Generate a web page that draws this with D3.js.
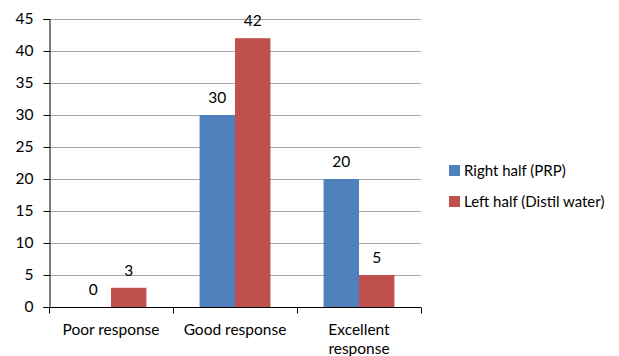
<!DOCTYPE html>
<html>
<head>
<meta charset="utf-8">
<script src="https://cdn.jsdelivr.net/npm/d3@7"></script>
<style>
  body { margin: 0; background: #fff; }
  text { font-family: Lato, "Open Sans", sans-serif; fill: #000; }
</style>
</head>
<body>
<svg width="619" height="356"></svg>
<script>
const categories = ["Poor response", "Good response", "Excellent response"];
const seriesNames = ["Right half (PRP)", "Left half (Distil water)"];
const prpValues = [0, 30, 20];
const waterValues = [3, 42, 5];
const yTicks = [0, 5, 10, 15, 20, 25, 30, 35, 40, 45];
const colors = ["#4f81bd", "#c0504d"];

const svg = d3.select("svg"),
    margin = {top: 19, right: 198, bottom: 49, left: 49},
    width = +svg.attr("width") - margin.left - margin.right,
    height = +svg.attr("height") - margin.top - margin.bottom,
    g = svg.append("g").attr("transform", "translate(" + margin.left + "," + margin.top + ")");

const x0 = d3.scaleBand().domain(categories).range([0, width]);
const x1 = d3.scaleBand().domain(seriesNames).range([0, x0.bandwidth()]).paddingOuter(0.75);
const y = d3.scaleLinear().domain([0, 45]).range([height, 0]);

// gridlines
g.append("g")
  .selectAll("line")
  .data(yTicks.slice(1))
  .enter().append("line")
    .attr("x1", 0).attr("x2", width)
    .attr("y1", d => y(d) + 0.5).attr("y2", d => y(d) + 0.5)
    .attr("stroke", "#a6a6a6").attr("stroke-width", 1);

const data = categories.map((c, i) => ({cat: c, vals: [prpValues[i], waterValues[i]]}));

const groups = g.append("g").selectAll("g")
  .data(data)
  .enter().append("g")
    .attr("transform", d => "translate(" + x0(d.cat) + ",0)");

groups.selectAll("rect")
  .data(d => d.vals.map((v, i) => ({key: seriesNames[i], value: v, i: i})))
  .enter().append("rect")
    .attr("x", d => x1(d.key))
    .attr("y", d => y(d.value))
    .attr("width", x1.bandwidth())
    .attr("height", d => height - y(d.value))
    .attr("fill", d => colors[d.i]);

groups.selectAll("text.val")
  .data(d => d.vals.map((v, i) => ({key: seriesNames[i], value: v})))
  .enter().append("text")
    .attr("class", "val")
    .attr("x", d => x1(d.key) + x1.bandwidth() / 2)
    .attr("y", d => y(d.value) - 12)
    .attr("text-anchor", "middle")
    .style("font-size", "15.5px")
    .text(d => d.value);

// y axis
const yAxis = g.append("g")
  .attr("transform", "translate(0.5,0)")
  .call(d3.axisLeft(y).tickValues(yTicks).tickSize(6).tickPadding(10));
yAxis.select(".domain").attr("stroke", "#000");
yAxis.selectAll("text").style("font-size", "15.5px");

// x axis
const xAxis = g.append("g")
  .attr("transform", "translate(0," + (height + 0.5) + ")")
  .call(d3.axisBottom(x0).tickSize(0).tickPadding(0));
xAxis.select(".domain").remove();
xAxis.selectAll("text").remove();
xAxis.append("line").attr("x1", 0).attr("x2", width).attr("stroke", "#000");
xAxis.selectAll(".sep")
  .data(d3.range(categories.length + 1))
  .enter().append("line")
    .attr("class", "sep")
    .attr("x1", i => i * x0.step() + 0.5).attr("x2", i => i * x0.step() + 0.5)
    .attr("y1", 0).attr("y2", 6)
    .attr("stroke", "#000");

// category labels (wrap long ones)
const catLabels = g.append("g").selectAll("text")
  .data(categories)
  .enter().append("text")
    .attr("x", d => x0(d) + x0.bandwidth() / 2)
    .attr("y", height + 28)
    .attr("text-anchor", "middle")
    .style("font-size", "15.5px");
catLabels.each(function(d) {
  const el = d3.select(this);
  const lines = d.length > 14 ? d.split(" ") : [d];
  lines.forEach((w, i) => {
    el.append("tspan")
      .attr("x", x0(d) + x0.bandwidth() / 2)
      .attr("dy", i === 0 ? 0 : 19)
      .text(w);
  });
});

// legend
const legend = svg.append("g").attr("transform", "translate(449,165)");
seriesNames.forEach((name, i) => {
  legend.append("rect")
    .attr("x", 0).attr("y", i * 31)
    .attr("width", 11).attr("height", 11)
    .attr("fill", colors[i]);
  legend.append("text")
    .attr("x", 15).attr("y", i * 31 + 11)
    .style("font-size", "15px")
    .text(name);
});
</script>
</body>
</html>
